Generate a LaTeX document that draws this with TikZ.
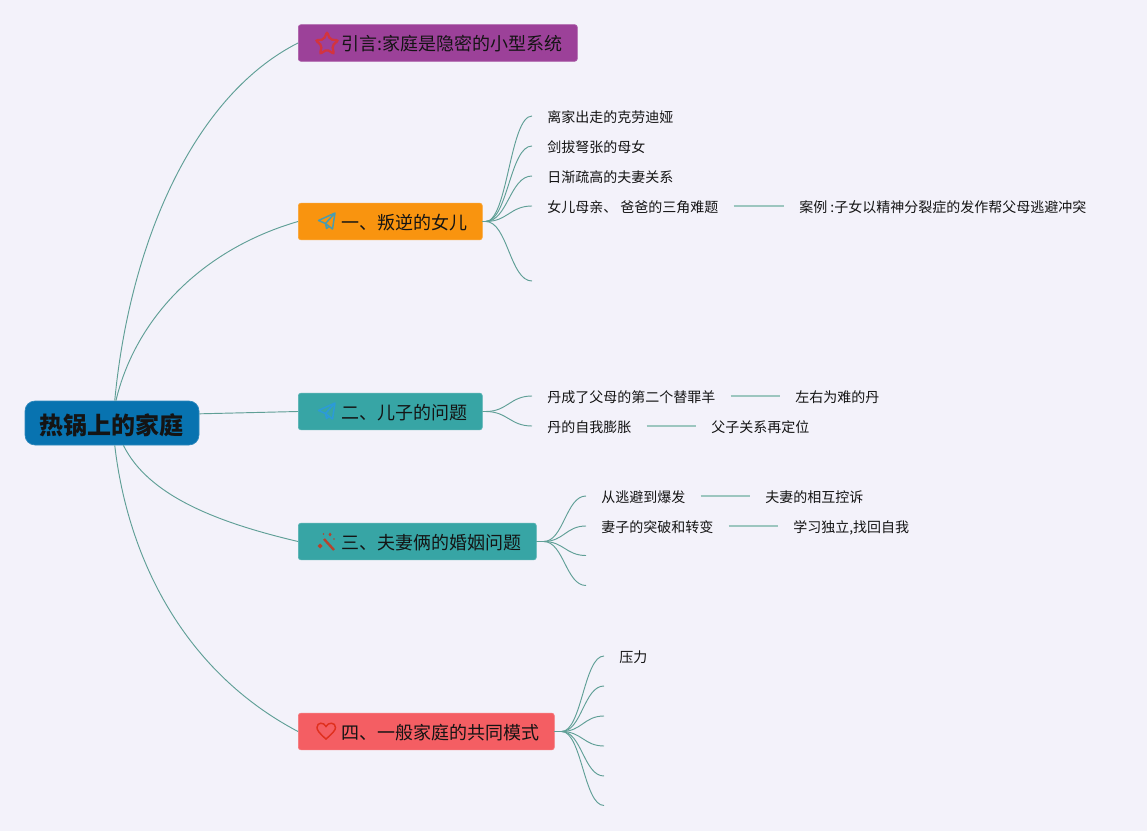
\documentclass[tikz,border=0pt]{standalone}
\usepackage{fontspec}
\setmainfont{Noto Sans CJK SC}
\definecolor{fond}{HTML}{F3F2FA}
\definecolor{lien}{HTML}{5F9F96}
\definecolor{lienclair}{HTML}{9CC6BF}
\definecolor{encre}{HTML}{141414}
\definecolor{bleuroot}{HTML}{0873B0}
\definecolor{violet}{HTML}{9C4199}
\definecolor{orange}{HTML}{F9940F}
\definecolor{sarcelle}{HTML}{37A5A5}
\definecolor{corail}{HTML}{F45E63}
\definecolor{etoile}{HTML}{D2343F}
\definecolor{avion}{HTML}{4A9CAE}
\definecolor{avionbleu}{HTML}{2C9AD8}
\definecolor{baguette}{HTML}{B5432E}
\definecolor{coeur}{HTML}{E0301E}
\tikzset{
	rootbox/.style={rectangle,rounded corners=7.5pt,fill=#1,draw=#1!85!white,line width=.5pt,inner xsep=11.25pt,inner ysep=0pt,minimum height=33pt,text height=18pt,text depth=1.4pt,text=encre,font=\fontsize{18pt}{20pt}\bfseries},
	mainbox/.style={rectangle,rounded corners=2pt,fill=#1,draw=#1!85!white,line width=.5pt,anchor=west,inner xsep=0pt,inner ysep=0pt,minimum height=27.5pt,text height=12.5pt,text depth=1pt,text=encre,font=\fontsize{13.5pt}{16pt}\selectfont},
	sublabel/.style={anchor=west,inner xsep=11.25pt,inner ysep=0pt,text height=11pt,text depth=1pt,text=encre,font=\fontsize{10.5pt}{12pt}\selectfont},
	mainline/.style={lien,line width=.7pt},
	fanline/.style={lien,line width=.7pt},
	detailline/.style={lienclair,line width=.9pt},
	planeicon/.style={line width=1.1pt,line join=round},
}
\newcommand{\maintext}[1]{\kern32.25pt#1\kern11.25pt\relax}
\begin{document}
\begin{tikzpicture}[x=.75pt,y=-.75pt]
	\useasboundingbox[fill=fond] (0,0) rectangle (1147,831);

	\node[rootbox=bleuroot] (root) at (112,423) {热锅上的家庭};
	\node[mainbox=violet] (intro) at (298,43) {\maintext{引言:家庭是隐密的小型系统}};
	\node[mainbox=orange] (nun) at (298,221.5) {\maintext{一、叛逆的女儿}};
	\node[mainbox=sarcelle] (ndeux) at (298,411.5) {\maintext{二、儿子的问题}};
	\node[mainbox=sarcelle] (ntrois) at (298,541.5) {\maintext{三、夫妻俩的婚姻问题}};
	\node[mainbox=corail] (nquatre) at (298,731.5) {\maintext{四、一般家庭的共同模式}};

	% branche 1
	\node[sublabel] (a1) at (532,116) {离家出走的克劳迪娅};
	\node[sublabel] (a2) at (532,146) {剑拔弩张的母女};
	\node[sublabel] (a3) at (532,176) {日渐疏高的夫妻关系};
	\node[sublabel] (a4) at (532,206) {女儿母亲、 爸爸的三角难题};
	\node[sublabel] (a4x) at (784,206) {案例 :子女以精神分裂症的发作帮父母逃避冲突};
	\coordinate (a5) at (532,281);
	% branche 2
	\node[sublabel] (b1) at (532,396) {丹成了父母的第二个替罪羊};
	\node[sublabel] (b1x) at (780,396) {左右为难的丹};
	\node[sublabel] (b2) at (532,426) {丹的自我膨胀};
	\node[sublabel] (b2x) at (696,426) {父子关系再定位};
	% branche 3
	\node[sublabel] (c1) at (586,496) {从逃避到爆发};
	\node[sublabel] (c1x) at (750,496) {夫妻的相互控诉};
	\node[sublabel] (c2) at (586,526) {妻子的突破和转变};
	\node[sublabel] (c2x) at (778,526) {学习独立,找回自我};
	\coordinate (c3) at (586,555.5);
	\coordinate (c4) at (586,585.5);
	% branche 4
	\node[sublabel] (d1) at (604,656) {压力};
	\coordinate (d2) at (604,686);
	\coordinate (d3) at (604,716);
	\coordinate (d4) at (604,746);
	\coordinate (d5) at (604,776);
	\coordinate (d6) at (604,805.5);

	\draw[mainline] (root.83) .. controls (130,240) and (195,95) .. (intro.west);
	\draw[mainline] (root.80) .. controls (135,320) and (200,250) .. (nun.west);
	\draw[mainline] (root.6.5) -- (ndeux.west);
	\draw[mainline] (root.-63) .. controls (148,495) and (215,522) .. (ntrois.west);
	\draw[mainline] (root.-83) .. controls (128,560) and (185,672) .. (nquatre.west);

	\foreach \e in {a1.west,a2.west,a3.west,a4.west,a5}{
		\draw[fanline] (nun.east) -- ++(3,0) .. controls +(22,0) and +(-22,0) .. (\e); }
	\foreach \e in {b1.west,b2.west}{
		\draw[fanline] (ndeux.east) -- ++(3,0) .. controls +(22,0) and +(-22,0) .. (\e); }
	\foreach \e in {c1.west,c2.west,c3,c4}{
		\draw[fanline] (ntrois.east) -- ++(7,0) .. controls +(20,0) and +(-20,0) .. (\e); }
	\foreach \e in {d1.west,d2,d3,d4,d5,d6}{
		\draw[fanline] (nquatre.east) -- ++(7,0) .. controls +(20,0) and +(-20,0) .. (\e); }
	\foreach \g/\d in {a4/a4x,b1/b1x,b2/b2x,c1/c1x,c2/c2x}{
		\draw[detailline] (\g.east) -- (\d.west); }

	% icones
	\draw[etoile,line width=1.7pt,rounded corners=1.5pt] (327,32) -- (330.2,39.5) -- (338.4,40.3) -- (332.2,45.7) -- (334,54) -- (327,49.5) -- (320,54) -- (321.8,45.7) -- (315.6,40.3) -- (323.8,39.5) -- cycle;
	\foreach \y/\c in {0/avion,190/avionbleu}{
		\draw[planeicon,\c,yshift=-\y*.75pt] (335,213) -- (318.5,220.5) -- (325.5,223.5) -- (332.5,229) -- cycle (335,213) -- (325.5,223.5) -- (326.5,228.5) -- (329.5,226); }
	\draw[baguette,line width=1.8pt] (324,539) -- (334,550);
	\fill[baguette] (320,543.5) -- (322.5,546) -- (320,548.5) -- (317.5,546) -- cycle (330,532.5) -- (331.5,534.5) -- (330,536.5) -- (328.5,534.5) -- cycle (334,539) circle (.9) (323.5,534) circle (.9);
	\draw[coeur,line width=1.1pt] (326,739) .. controls (319,733) and (317,730) .. (317,727.5) .. controls (317,722) and (324,722) .. (326,726.5) .. controls (328,722) and (335.5,722) .. (335.5,727.5) .. controls (335.5,730) and (333,733) .. cycle;
\end{tikzpicture}
\end{document}
